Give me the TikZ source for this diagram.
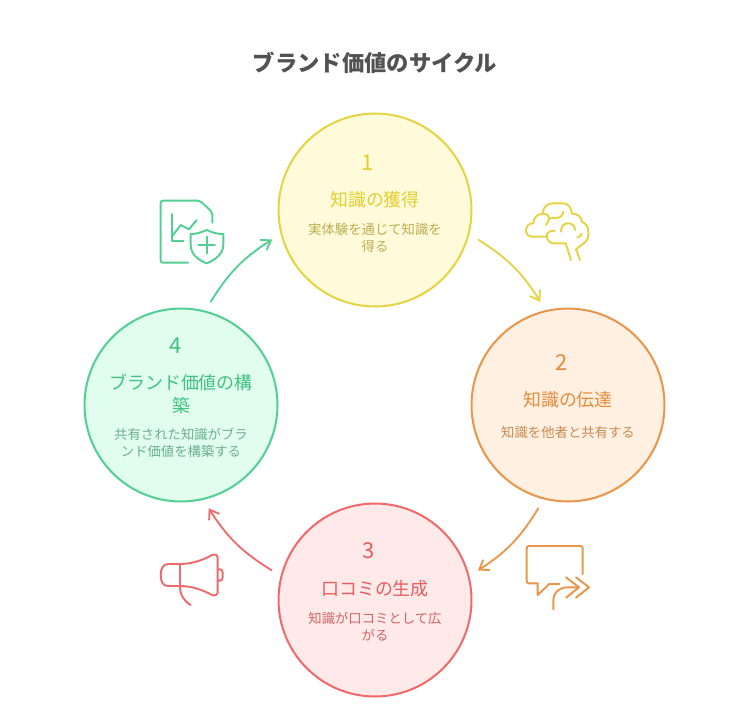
\documentclass[tikz,border=0pt]{standalone}
\usepackage{xcolor}
\usepackage{fontspec}
\setmainfont{Noto Sans CJK JP}
\usetikzlibrary{arrows.meta,positioning}
\definecolor{titlegray}{RGB}{82,82,82}
\definecolor{yellowline}{RGB}{228,212,68}
\definecolor{yellowfill}{RGB}{255,251,218}
\definecolor{yellowhead}{RGB}{226,206,48}
\definecolor{yellowtext}{RGB}{186,174,80}
\definecolor{orangeline}{RGB}{232,150,74}
\definecolor{orangefill}{RGB}{255,240,226}
\definecolor{orangehead}{RGB}{229,139,58}
\definecolor{orangetext}{RGB}{201,138,79}
\definecolor{redline}{RGB}{238,107,107}
\definecolor{redfill}{RGB}{255,233,233}
\definecolor{redhead}{RGB}{232,92,92}
\definecolor{redtext}{RGB}{207,102,102}
\definecolor{greenline}{RGB}{84,207,147}
\definecolor{greenfill}{RGB}{225,253,238}
\definecolor{greenhead}{RGB}{63,194,130}
\definecolor{greentext}{RGB}{107,176,142}

\begin{document}
\begin{tikzpicture}[
    x=0.02cm, y=-0.02cm,
    stage/.style={circle, line width=1.15pt, minimum size=3.86cm, outer sep=6pt},
    number/.style={font=\fontsize{12.5}{15}\selectfont, inner sep=0pt},
    head/.style={font=\fontsize{10.2}{13}\selectfont, align=center, inner sep=0pt},
    desc/.style={font=\fontsize{7.6}{9.6}\selectfont, align=center, inner sep=0pt},
    arrow/.style={-{Straight Barb[length=5pt,width=7pt]}, line width=1.05pt, bend left=13},
    icon/.style={line width=1.1pt, line cap=round, line join=round}
]

\useasboundingbox (0,0) rectangle (750,708);

\node[font=\fontsize{12.7}{15}\selectfont\bfseries, text=titlegray, inner sep=0pt] (title) at (375,62.5) {ブランド価値のサイクル};

\node[stage, draw=yellowline, fill=yellowfill] (c1) at (375,210) {};
\node[stage, draw=orangeline, fill=orangefill] (c2) at (568,405) {};
\node[stage, draw=redline, fill=redfill] (c3) at (375,600) {};
\node[stage, draw=greenline, fill=greenfill] (c4) at (181,405) {};

\node[number, text=yellowhead] (n1) at (368,162.5) {1};
\node[head, text=yellowhead] (h1) at (375,200) {知識の獲得};
\node[desc, text=yellowtext] (d1) at (375,238) {実体験を通じて知識を\\得る};

\node[number, text=orangehead] (n2) at (562,362.5) {2};
\node[head, text=orangehead] (h2) at (568,400) {知識の伝達};
\node[desc, text=orangetext] (d2) at (568,432) {知識を他者と共有する};

\node[number, text=redhead] (n3) at (369,550.5) {3};
\node[head, text=redhead] (h3) at (375,589) {口コミの生成};
\node[desc, text=redtext] (d3) at (375,627) {知識が口コミとして広\\がる};

\node[number, text=greenhead] (n4) at (176,345.5) {4};
\node[head, text=greenhead] (h4) at (181,394) {ブランド価値の構\\築};
\node[desc, text=greentext] (d4) at (181,443) {共有された知識がブラ\\ンド価値を構築する};

\draw[arrow, yellowline] (c1.-16) to (c2.105);
\draw[arrow, orangeline] (c2.-106) to (c3.16);
\draw[arrow, redline] (c3.164) to (c4.-75);
\draw[arrow, greenline] (c4.74) to (c1.196);

\draw[icon, greenline, rounded corners=1.2pt] (188,262.7) -- (160.7,262.7) -- (160.7,200.7) -- (200,200.7) -- (212.3,212.3) -- (212.3,222.7);
\draw[icon, greenline] (171.7,214) -- (171.7,241.3) -- (183.3,241.3);
\draw[icon, greenline] (172.3,236) -- (180.7,225) -- (189,229.3) -- (196.7,220);
\draw[icon, greenline] (206.7,230) .. controls (200,233) and (195,234) .. (190.7,234) -- (190.7,245) .. controls (190.7,254) and (198,260) .. (206.7,263.3) .. controls (215,260) and (223.3,254) .. (223.3,245) -- (223.3,234) .. controls (218,234) and (213,233) .. (206.7,230) -- cycle;
\draw[icon, greenline] (206.7,236.7) -- (206.7,253.3) (198.3,245) -- (215,245);

\draw[icon, yellowline] (571,260) -- (565.7,243.3) -- (553.3,243.3) .. controls (549,243.3) and (546.7,239) .. (546.7,235) .. controls (546.7,232) and (551,230.7) .. (555,230.7);
\draw[icon, yellowline] (546,236.7) -- (531.7,236.7) .. controls (528,236.7) and (526,233) .. (526,230.7) .. controls (526,226) and (529,223.3) .. (533.3,223.3) .. controls (533.3,217) and (538,214.3) .. (543,213.5) .. controls (543,206) and (548,203.3) .. (553.3,203.3) -- (563.3,203.3) .. controls (568,203.3) and (571.7,208) .. (571.7,213.3) .. controls (578,214) and (581.7,217) .. (581.7,221.7) .. controls (586,223) and (588.3,227) .. (588.3,231.7) .. controls (589,237) and (587,241) .. (584,243) -- (576,249.3) -- (580,260);
\draw[icon, yellowline] (543,213.5) .. controls (547,214) and (549.3,216) .. (549.3,218.3) .. controls (549.3,221) and (547,223) .. (546,225);
\draw[icon, yellowline] (549.3,218.3) -- (556,218) .. controls (560,218) and (563.3,215) .. (563.3,211.7);
\draw[icon, yellowline] (561,231.7) .. controls (561,226) and (564,223.3) .. (568.3,223.3) .. controls (572,223.3) and (575,226) .. (575,230);
\draw[icon, yellowline] (581.7,233.3) .. controls (581.7,236) and (579,237.3) .. (577.3,237.3);

\draw[icon, orangeline, rounded corners=1.2pt] (582.7,574) -- (582.7,546) -- (526.7,546) -- (526.7,583.3) -- (537.7,583.3);
\draw[icon, orangeline] (537.7,583.3) -- (537.7,595) -- (549.3,584) -- (559.3,584);
\draw[icon, orangeline] (553.3,609.3) -- (553.3,601) .. controls (553.3,592) and (560,587.3) .. (568,587.3) -- (578.3,587.3);
\draw[icon, orangeline] (566,577.3) -- (579,587.3) -- (566,597.7);
\draw[icon, orangeline] (576,577.3) -- (589,587.3) -- (576,597.7);

\draw[icon, redline] (180,564) -- (168.3,564) .. controls (163,564) and (160.7,569) .. (160.7,575) .. controls (160.7,582) and (163,586) .. (168.3,586) -- (180,586) .. controls (192,586) and (203,590) .. (212,595) .. controls (215,596) and (217.7,595) .. (217.7,592) -- (217.7,558) .. controls (217.7,555) and (215,554) .. (212,555) .. controls (203,560) and (192,564) .. (180,564) -- cycle;
\draw[icon, redline] (180,564) -- (180,586) .. controls (180,595) and (184,601) .. (190.7,605);
\draw[icon, redline] (217.7,569.3) -- (220,569.3) .. controls (222,569.3) and (222.7,571) .. (222.7,573) -- (222.7,577) .. controls (222.7,579) and (222,580.7) .. (220,580.7) -- (217.7,580.7);

\end{tikzpicture}
\end{document}
